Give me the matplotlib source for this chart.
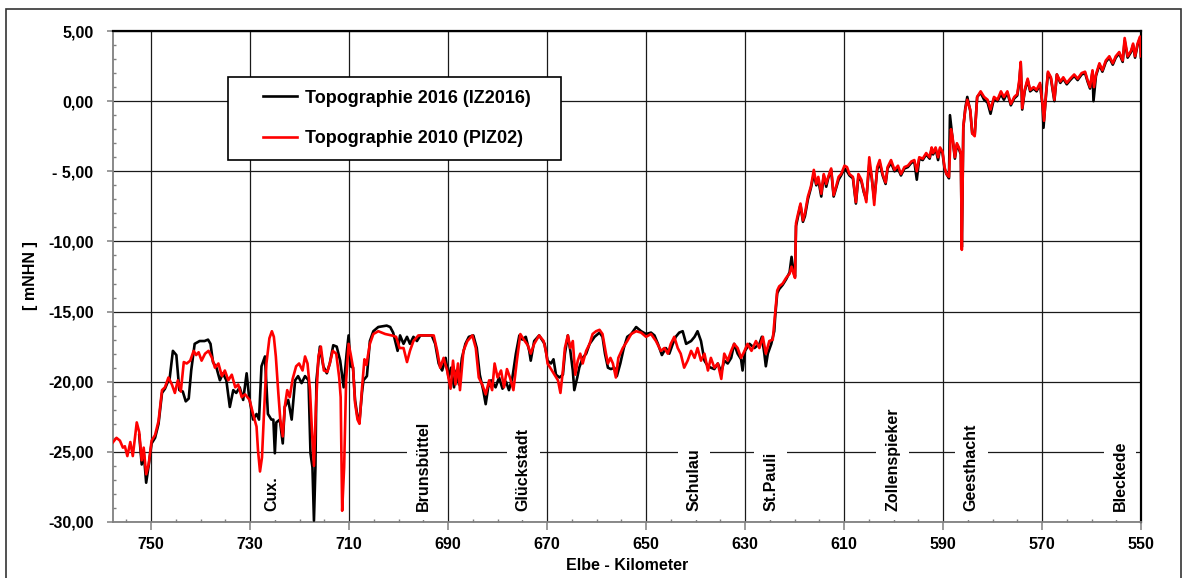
import numpy as np
import matplotlib
matplotlib.use("Agg")
import matplotlib.pyplot as plt
from matplotlib.ticker import MultipleLocator, FuncFormatter
from matplotlib.legend_handler import HandlerLine2D
from matplotlib.patches import Rectangle

# ---------------------------------------------------------------------------
# Längsprofil der Elbe: Sohlhöhen [mNHN] über Elbe-Kilometer
# ---------------------------------------------------------------------------
km_2010 = [
    757.9, 757.0, 756.3, 755.7, 755.3, 754.8, 754.2, 753.7, 752.9, 752.4,
    751.9, 751.5, 751.0, 750.5, 749.9, 749.2, 748.5, 747.8, 747.2, 746.5,
    745.8, 745.2, 744.6, 744.0, 743.4, 742.8, 742.1, 741.4, 740.9, 740.4,
    739.8, 739.1, 738.4, 737.7, 737.1, 736.4, 735.7, 735.1, 734.4, 733.7,
    733.0, 732.4, 731.7, 731.0, 730.1, 729.4, 728.7, 728.4, 728.0, 727.6,
    727.2, 726.7, 726.1, 725.6, 725.2, 724.8, 724.3, 723.9, 723.4, 723.0,
    722.5, 722.0, 721.4, 720.7, 720.1, 719.4, 718.9, 718.4, 717.9, 717.5,
    717.1, 716.7, 716.2, 715.7, 715.1, 714.4, 713.9, 713.3, 712.6, 712.0,
    711.7, 711.4, 711.0, 710.6, 710.1, 709.7, 709.2, 708.8, 708.3, 707.9,
    707.4, 706.9, 706.5, 705.8, 705.1, 704.1, 702.7, 701.4, 700.5, 699.8,
    699.0, 698.3, 697.7, 697.0, 696.0, 694.3, 692.9, 692.2, 691.6, 690.9,
    690.2, 689.5, 689.0, 688.5, 688.0, 687.6, 686.9, 686.1, 685.1, 684.4,
    683.8, 683.1, 682.4, 681.7, 681.1, 680.6, 680.0, 679.3, 678.7, 678.1,
    677.5, 676.8, 676.1, 675.4, 674.7, 673.9, 673.3, 672.6, 671.6, 670.7,
    670.2, 669.9, 669.2, 668.5, 667.8, 667.3, 666.8, 666.4, 665.8, 665.3,
    664.8, 664.3, 663.8, 663.3, 662.8, 662.1, 661.4, 660.8, 660.1, 659.4,
    658.8, 658.1, 657.7, 657.2, 656.7, 656.1, 655.6, 654.7, 653.8, 653.0,
    652.0, 651.0, 650.0, 649.0, 648.0, 647.0, 646.3, 645.6, 645.0, 644.3,
    643.6, 643.0, 642.3, 641.6, 640.9, 640.2, 639.6, 638.9, 638.2, 637.5,
    636.9, 636.2, 635.5, 634.8, 634.2, 633.5, 632.8, 632.2, 631.5, 630.8,
    630.1, 629.5, 628.7, 627.8, 627.1, 626.4, 625.8, 625.1, 624.4, 623.9,
    623.5, 623.1, 622.4, 621.7, 621.0, 620.6, 620.2, 619.9, 619.7, 619.4,
    618.8, 618.3, 617.9, 617.3, 616.7, 616.1, 615.6, 615.2, 614.6, 614.1,
    613.6, 613.2, 612.6, 612.1, 611.6, 611.1, 610.6, 609.9, 609.4, 608.9,
    608.2, 607.6, 607.1, 606.5, 606.0, 605.5, 604.9, 604.4, 603.9, 603.3,
    602.8, 602.2, 601.6, 601.2, 600.5, 599.8, 599.1, 598.5, 597.8, 597.1,
    596.4, 595.8, 595.3, 594.8, 594.1, 593.4, 592.7, 592.3, 592.0, 591.5,
    591.0, 590.6, 590.1, 589.7, 589.3, 588.8, 588.4, 588.1, 587.6, 587.2,
    586.8, 586.4, 586.2, 585.9, 585.5, 585.1, 584.5, 584.1, 583.6, 583.1,
    582.4, 581.7, 581.0, 580.4, 579.7, 579.0, 578.3, 577.7, 577.0, 576.3,
    575.6, 575.0, 574.6, 574.3, 574.0, 573.5, 572.9, 572.4, 571.7, 571.1,
    570.4, 569.9, 569.6, 569.2, 568.8, 568.2, 567.5, 567.0, 566.3, 565.7,
    565.0, 564.3, 563.5, 562.8, 562.0, 561.3, 560.8, 560.3, 559.8, 559.5,
    559.1, 558.4, 557.8, 557.1, 556.4, 555.7, 555.1, 554.4, 553.7, 553.3,
    552.7, 552.0, 551.6, 551.2, 550.7, 550.2, 550.0,
]
nhn_2010 = [
    -24.4, -24.0, -24.2, -24.7, -24.6, -25.3, -24.3, -25.3, -22.9, -23.6,
    -25.6, -24.7, -26.6, -25.9, -24.2, -23.8, -22.8, -20.6, -20.4, -19.7,
    -20.2, -20.8, -19.9, -20.7, -18.6, -18.7, -18.5, -17.8, -18.1, -17.9,
    -18.5, -18.0, -17.8, -18.3, -19.0, -18.7, -19.6, -19.2, -19.9, -19.5,
    -20.4, -20.2, -21.1, -20.9, -21.3, -22.3, -23.2, -24.9, -26.4, -25.4,
    -22.3, -18.7, -16.9, -16.4, -16.8, -18.2, -20.8, -22.7, -23.9, -21.8,
    -20.6, -21.1, -19.8, -18.9, -18.7, -19.2, -18.2, -18.7, -20.6, -23.5,
    -26.0, -21.8, -18.2, -17.5, -19.2, -19.3, -18.7, -17.8, -18.0, -19.7,
    -21.1, -29.2, -26.1, -19.9, -17.3, -18.0, -19.0, -21.5, -22.7, -23.0,
    -20.5, -18.4, -18.8, -17.3, -16.6, -16.4, -16.6, -16.7, -16.8, -17.6,
    -17.6, -18.6, -17.8, -17.1, -16.7, -16.7, -16.7, -17.8, -19.0, -18.3,
    -19.2, -20.5, -18.5, -20.2, -18.7, -20.6, -17.8, -17.1, -16.7, -17.6,
    -19.7, -20.2, -20.9, -19.9, -20.6, -18.7, -19.7, -19.2, -20.4, -19.1,
    -19.7, -20.6, -18.5, -16.6, -17.0, -17.4, -18.0, -17.3, -16.7, -17.1,
    -17.9, -18.7, -19.1, -19.5, -19.9, -20.8, -19.2, -17.6, -16.7, -17.6,
    -17.1, -19.5, -18.5, -18.0, -18.7, -17.8, -17.3, -16.6, -16.4, -16.3,
    -16.6, -18.0, -18.7, -18.3, -18.7, -19.7, -18.3, -17.6, -17.1, -16.6,
    -16.4, -16.5, -16.8, -16.6, -17.1, -17.8, -17.6, -18.0, -17.3, -16.8,
    -17.6, -18.0, -19.0, -18.5, -17.8, -18.3, -17.6, -18.5, -18.0, -19.2,
    -18.3, -19.0, -18.7, -19.8, -18.0, -18.5, -17.8, -17.3, -17.6, -18.3,
    -17.8, -17.3, -17.8, -17.1, -17.6, -16.8, -18.0, -17.1, -17.0, -15.1,
    -13.5, -13.2, -13.0, -12.6, -12.3, -11.8, -12.3, -12.6, -8.7, -8.2,
    -7.3, -8.5, -8.0, -6.8, -6.1, -4.9, -5.9, -5.4, -6.6, -5.2,
    -5.9, -5.4, -4.8, -6.7, -6.1, -5.4, -5.2, -4.6, -4.7, -5.2,
    -5.4, -7.2, -5.2, -5.6, -6.4, -7.2, -4.0, -5.4, -7.4, -4.7,
    -4.2, -5.2, -5.8, -4.7, -4.2, -4.9, -4.6, -5.2, -4.7, -4.6,
    -4.3, -4.2, -5.0, -4.0, -4.1, -3.7, -4.0, -3.3, -3.7, -3.3,
    -4.0, -3.3, -3.6, -4.7, -5.2, -5.4, -2.0, -2.5, -4.0, -3.0,
    -3.3, -3.7, -10.6, -1.8, -0.6, 0.1, -0.6, -2.3, -2.5, 0.3,
    0.7, 0.3, 0.1, -0.6, 0.3, 0.1, 0.7, 0.3, 0.7, -0.2,
    0.3, 0.5, 1.5, 2.8, -0.5, 0.8, 1.6, 0.8, 1.0, 0.8,
    1.3, -0.2, -1.4, 0.5, 2.1, 1.7, 0.1, 1.9, 1.4, 1.7,
    1.3, 1.6, 1.9, 1.6, 2.0, 2.1, 1.5, 1.0, 2.2, 1.0,
    1.9, 2.7, 2.2, 2.9, 3.2, 2.7, 3.2, 3.5, 2.9, 4.5,
    3.2, 3.6, 4.1, 3.2, 4.1, 4.6, 3.2,
]

km_2016 = [
    752.4, 751.9, 751.5, 751.0, 750.5, 749.9, 749.2, 748.5, 747.8, 747.2,
    746.5, 746.3, 745.6, 744.9, 744.3, 743.6, 743.0, 742.4, 741.9, 741.2,
    740.2, 739.2, 738.5, 738.0, 737.5, 736.8, 736.1, 735.5, 734.8, 734.1,
    733.4, 732.8, 732.1, 731.4, 730.7, 730.2, 729.4, 728.7, 728.2, 727.7,
    727.0, 726.4, 725.7, 725.3, 725.0, 724.7, 724.0, 723.4, 723.0, 722.3,
    721.6, 720.9, 720.3, 719.6, 718.9, 718.2, 717.8, 717.4, 717.1, 716.8,
    716.6, 715.9, 715.2, 714.5, 713.9, 713.2, 712.5, 711.8, 711.1, 710.5,
    710.1, 709.7, 709.2, 708.8, 708.3, 707.9, 707.4, 707.1, 706.4, 705.8,
    705.1, 704.1, 702.4, 701.7, 701.1, 700.2, 699.7, 699.0, 698.3, 697.7,
    697.0, 696.3, 695.6, 694.3, 693.3, 692.6, 691.9, 691.2, 690.5, 689.9,
    689.4, 688.8, 688.3, 687.8, 687.2, 686.5, 685.8, 684.9, 684.2, 683.6,
    682.9, 682.4, 681.9, 681.3, 680.4, 679.7, 679.0, 678.3, 677.7, 677.0,
    676.3, 675.6, 675.0, 674.3, 673.6, 673.3, 672.6, 671.6, 670.5, 669.9,
    669.2, 668.7, 668.2, 667.5, 666.8, 666.4, 665.8, 665.3, 664.8, 664.5,
    663.9, 663.5, 662.8, 662.1, 661.4, 660.4, 659.4, 658.8, 658.3, 657.7,
    657.1, 656.4, 655.9, 655.2, 654.5, 653.8, 653.0, 652.0, 651.0, 650.0,
    649.0, 648.3, 647.6, 646.8, 646.0, 645.3, 644.6, 644.0, 643.3, 642.6,
    641.9, 640.9, 640.2, 639.6, 638.9, 638.2, 637.5, 636.9, 636.2, 635.5,
    634.8, 634.2, 633.5, 632.8, 632.2, 631.5, 630.8, 630.5, 630.0, 629.1,
    628.1, 627.1, 626.6, 626.1, 625.8, 625.4, 624.7, 624.1, 623.9, 623.5,
    623.1, 622.4, 621.7, 621.0, 620.6, 620.2, 619.9, 619.7, 619.4, 618.8,
    618.3, 617.9, 617.3, 616.7, 616.1, 615.6, 615.2, 614.6, 614.1, 613.6,
    613.2, 612.6, 612.1, 611.6, 611.1, 610.6, 609.9, 609.4, 608.9, 608.2,
    607.6, 607.1, 606.5, 606.0, 605.5, 604.9, 604.4, 603.9, 603.3, 602.8,
    602.2, 601.6, 601.2, 600.5, 599.8, 599.1, 598.5, 597.8, 597.1, 596.4,
    595.8, 595.3, 594.8, 594.1, 593.4, 592.7, 592.3, 592.0, 591.5, 591.0,
    590.6, 590.1, 589.7, 589.3, 588.8, 588.6, 588.1, 587.6, 587.2, 586.8,
    586.4, 586.2, 585.9, 585.5, 585.1, 584.5, 584.1, 583.6, 583.1, 582.4,
    581.7, 581.0, 580.4, 579.7, 579.0, 578.3, 577.7, 577.0, 576.3, 575.6,
    575.0, 574.6, 574.3, 574.0, 573.5, 572.9, 572.4, 571.7, 571.1, 570.4,
    569.9, 569.7, 569.2, 568.8, 568.2, 567.5, 567.0, 566.3, 565.7, 565.0,
    564.3, 563.5, 562.8, 562.0, 561.3, 560.8, 560.3, 559.8, 559.6, 559.1,
    558.4, 557.8, 557.1, 556.4, 555.7, 555.1, 554.4, 553.7, 553.3, 552.7,
    552.0, 551.6, 551.2, 550.7, 550.2, 550.0,
]
nhn_2016 = [
    -23.8, -25.9, -25.0, -27.2, -26.0, -24.4, -24.0, -23.0, -20.8, -20.5,
    -19.9, -19.9, -17.8, -18.1, -20.6, -20.7, -21.4, -21.2, -19.2, -17.3,
    -17.1, -17.1, -17.0, -17.3, -18.6, -19.0, -19.9, -19.4, -19.9, -21.8,
    -20.6, -20.8, -20.4, -21.3, -19.4, -21.1, -22.7, -22.3, -22.7, -18.9,
    -18.2, -22.3, -22.7, -22.7, -25.1, -22.9, -22.7, -24.4, -21.8, -21.3,
    -22.7, -19.9, -19.6, -20.1, -19.6, -19.9, -25.1, -26.1, -29.9, -26.1,
    -19.9, -17.5, -18.9, -19.4, -18.7, -17.4, -17.5, -18.5, -20.4, -18.0,
    -16.7, -18.9, -19.0, -21.3, -22.5, -22.8, -20.8, -19.9, -19.6, -17.1,
    -16.4, -16.1, -16.0, -16.1, -16.5, -17.8, -16.7, -17.3, -16.8, -17.3,
    -16.8, -17.1, -16.7, -16.7, -16.7, -17.3, -18.7, -19.2, -18.3, -19.7,
    -19.0, -20.4, -19.2, -20.2, -18.3, -17.3, -16.8, -16.7, -17.6, -19.5,
    -20.6, -21.6, -20.4, -19.9, -20.4, -19.7, -20.5, -20.0, -20.6, -19.7,
    -18.0, -16.7, -17.0, -16.8, -17.8, -18.5, -17.1, -16.7, -17.3, -18.5,
    -18.7, -18.4, -19.5, -19.7, -19.5, -18.0, -16.7, -17.8, -19.2, -20.6,
    -19.7, -19.0, -18.3, -18.0, -17.3, -16.8, -16.5, -16.8, -18.0, -19.0,
    -19.1, -19.0, -19.6, -18.7, -17.6, -16.8, -16.6, -16.1, -16.4, -16.6,
    -16.5, -16.7, -17.3, -18.1, -17.6, -18.0, -17.3, -16.8, -16.5, -16.4,
    -17.3, -17.1, -16.8, -16.4, -17.1, -18.5, -18.9, -19.0, -19.1, -18.7,
    -19.3, -18.5, -18.7, -18.3, -17.3, -18.0, -18.4, -19.2, -17.8, -17.3,
    -17.6, -17.3, -16.8, -18.0, -18.9, -18.0, -17.3, -16.4, -15.3, -13.7,
    -13.4, -13.1, -12.7, -12.2, -11.1, -12.2, -12.5, -8.9, -8.4, -7.4,
    -8.6, -8.2, -7.0, -6.2, -5.2, -6.0, -5.6, -6.8, -5.3, -6.1,
    -5.5, -4.9, -6.8, -6.2, -5.6, -5.3, -4.8, -5.0, -5.3, -5.5,
    -7.3, -5.4, -5.7, -6.5, -7.0, -4.5, -5.5, -7.0, -4.9, -4.4,
    -5.3, -5.9, -4.8, -4.4, -5.0, -4.8, -5.3, -4.8, -4.7, -4.4,
    -4.3, -5.6, -4.1, -4.2, -3.8, -4.1, -3.4, -3.8, -3.4, -4.2,
    -3.4, -3.7, -4.8, -5.2, -5.5, -1.0, -2.6, -4.1, -3.1, -3.4,
    -3.8, -10.4, -1.9, -0.5, 0.3, -0.7, -2.3, -2.4, 0.3, 0.6,
    0.1, -0.1, -0.9, 0.2, 0.0, 0.5, 0.1, 0.6, -0.3, 0.2,
    0.4, 1.3, 2.7, -0.6, 0.7, 1.5, 0.7, 0.9, 0.7, 1.2,
    -0.3, -1.9, 0.4, 2.0, 1.6, 0.0, 1.9, 1.3, 1.6, 1.2,
    1.5, 1.8, 1.5, 1.9, 2.0, 1.4, 0.9, 2.1, 0.0, 1.8,
    2.6, 2.1, 2.8, 3.1, 2.6, 3.1, 3.4, 2.8, 4.3, 3.1,
    3.5, 4.0, 3.1, 4.0, 4.5, 3.1,
]

# Ortsmarken entlang der Elbe
places = ["Cux.", "Brunsbüttel", "Glückstadt", "Schulau", "St.Pauli",
          "Zollenspieker", "Geesthacht", "Bleckede"]
place_km = [725.5, 695.0, 674.8, 640.3, 624.8, 600.2, 584.3, 554.2]

series_labels = ["Topographie 2016 (IZ2016)", "Topographie 2010 (PIZ02)"]
series_colors = ["#000000", "#ff0000"]

x_ticks = list(range(750, 549, -20))
y_ticks = list(range(-30, 6, 5))

# ---------------------------------------------------------------------------
plt.rcParams["font.family"] = ["Liberation Sans", "DejaVu Sans"]
plt.rcParams["font.weight"] = "bold"
FS = 11.5
FS_LEG = 13

W, H = 1187, 578
fig = plt.figure(figsize=(W / 100, H / 100), dpi=100)
ax = fig.add_axes([113 / W, 1 - 522 / H, (1141 - 113) / W, (522 - 31) / H])

ax.plot(km_2016, nhn_2016, color=series_colors[0], lw=1.9,
        label=series_labels[0], zorder=4, solid_joinstyle="round")
ax.plot(km_2010, nhn_2010, color=series_colors[1], lw=1.9,
        label=series_labels[1], zorder=5, solid_joinstyle="round")

ax.set_xlim(757.7, 550)
ax.set_ylim(-30, 5)

ax.set_xticks(x_ticks)
ax.set_yticks(y_ticks)
ax.xaxis.set_minor_locator(MultipleLocator(5))
ax.yaxis.set_minor_locator(MultipleLocator(1))


def nhn_label(v, pos):
    s = f"{abs(v):.2f}".replace(".", ",")
    if v < -1e-9:
        return ("- " if abs(v) < 10 else "-") + s
    return s


ax.yaxis.set_major_formatter(FuncFormatter(nhn_label))
ax.xaxis.set_major_formatter(FuncFormatter(lambda v, p: f"{int(round(v))}"))

ax.tick_params(axis="x", which="major", direction="out", length=6,
               width=1.1, color="#808080", pad=5, labelsize=FS)
ax.tick_params(axis="y", which="major", direction="out", length=4,
               width=1.1, color="#808080", pad=10, labelsize=FS)
ax.tick_params(which="minor", direction="in", length=2, width=1.0,
               color="#808080")
for lbl in ax.get_xticklabels() + ax.get_yticklabels():
    lbl.set_fontweight("bold")

ax.set_axisbelow(True)
ax.grid(True, which="major", color="#1a1a1a", lw=0.9)

for side in ("left", "bottom"):
    ax.spines[side].set_color("#808080")
    ax.spines[side].set_linewidth(1.3)
for side in ("top", "right"):
    ax.spines[side].set_color("#000000")
    ax.spines[side].set_linewidth(1.6)

# Ortsnamen, senkrecht, mit weißem Hintergrund über dem Gitter
for name, k in zip(places, place_km):
    ax.text(k, -29.2, name, rotation=90, ha="center", va="bottom",
            fontsize=FS, fontweight="bold", zorder=3,
            bbox=dict(boxstyle="square,pad=0.55", fc="white", ec="none"))


class InsetLineHandler(HandlerLine2D):
    """Legend line drawn only in the right part of the handle box."""

    def __init__(self, lead, **kw):
        super().__init__(**kw)
        self.lead = lead

    def get_xdata(self, legend, xdescent, ydescent, width, height, fontsize):
        x0 = -xdescent + self.lead
        x1 = -xdescent + width
        return np.array([x0, x1]), np.array([x0, x1])


handles, labels = ax.get_legend_handles_labels()
leg = ax.legend(
    handles, labels,
    loc="upper left",
    bbox_to_anchor=((228 - 113) / 1028, (522 - 77) / 491, 333 / 1028, 0),
    mode="expand", borderaxespad=0, fancybox=False, framealpha=1,
    edgecolor="black", handlelength=3.12, handletextpad=0.44,
    borderpad=0.7, labelspacing=1.3,
    prop={"weight": "bold", "size": FS_LEG},
    handler_map={h: InsetLineHandler(16.1) for h in handles},
)
leg.get_frame().set_linewidth(1.2)
leg.set_zorder(6)

fig.text(627 / W, 1 - 566 / H, "Elbe - Kilometer", ha="center", va="center",
         fontsize=FS, fontweight="bold")
fig.text(30 / W, 1 - 276 / H, "[ mNHN ]", ha="center", va="center",
         rotation=90, fontsize=FS, fontweight="bold")

# Rahmen um die gesamte Grafik
fig.patches.append(Rectangle((6 / W, -0.02), (1181 - 6) / W, 1.02 - 9 / H,
                             transform=fig.transFigure, fill=False,
                             ec="#333333", lw=1.2))

fig.savefig("out.png", dpi=100)
